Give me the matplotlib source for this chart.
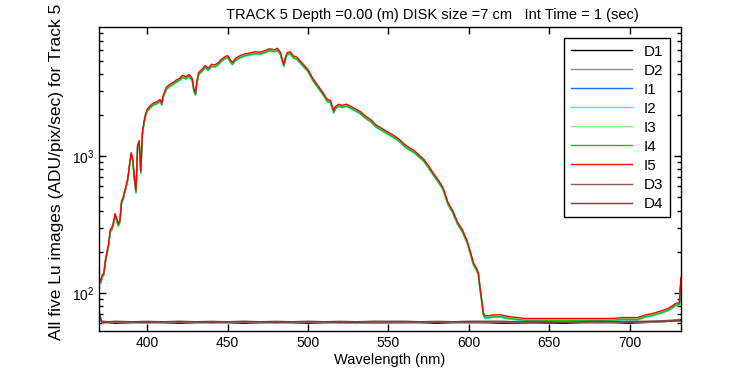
import matplotlib
matplotlib.use("Agg")
import matplotlib.pyplot as plt
from matplotlib.ticker import NullFormatter, LogLocator

plt.rcParams['font.family'] = ['Liberation Sans', 'DejaVu Sans']
plt.rcParams['mathtext.fontset'] = 'custom'
plt.rcParams['mathtext.rm'] = 'Liberation Sans'
plt.rcParams['mathtext.it'] = 'Liberation Sans'

# Lu spectrum for I5 (wavelength nm, ADU/pix/sec)
wl = [370, 371, 372, 373, 374, 375, 376, 377, 378, 379, 380, 381, 382, 383, 384,
      385, 386, 387, 388, 389, 390, 391, 392, 393, 394, 395, 396, 397, 398, 399,
      400, 402, 404, 406, 408, 409, 410, 412, 414, 416, 418, 420, 422, 424, 426,
      428, 429, 430, 431, 432, 434, 436, 438, 440, 442, 444, 446, 448, 450, 452,
      453, 455, 458, 461, 464, 467, 470, 473, 476, 479, 481, 483, 484, 485, 486,
      487, 489, 491, 493, 495, 497, 500, 503, 506, 509, 512, 514, 516, 517, 519,
      521, 524, 527, 530, 533, 536, 539, 542, 545, 548, 551, 554, 557, 560, 563,
      566, 569, 572, 575, 578, 581, 584, 587, 590, 593, 596, 599, 601, 603, 605,
      606, 607, 608, 609, 610, 612, 615, 620, 625, 630, 635, 640, 645, 650, 655,
      660, 665, 670, 675, 680, 685, 690, 695, 700, 705, 710, 715, 720, 724, 727,
      729, 730, 731, 732]
i5 = [128, 122, 135, 140, 175, 200, 230, 290, 300, 330, 380, 350, 320, 340, 470,
      500, 560, 620, 700, 880, 1060, 960, 700, 560, 1200, 1300, 780, 1500, 1800, 2050,
      2200, 2350, 2450, 2500, 2600, 2450, 2800, 3200, 3350, 3450, 3600, 3700, 3900, 3800, 3950,
      3700, 3100, 2900, 3600, 4100, 4300, 4600, 4400, 4700, 4650, 4800, 5100, 5300, 5450, 5000,
      4850, 5200, 5450, 5600, 5700, 5800, 5750, 5900, 6100, 6000, 6150, 5700, 5100, 4700, 5300,
      5700, 5800, 5400, 5300, 5000, 4700, 4300, 3700, 3300, 2950, 2600, 2550, 2150, 2300, 2400,
      2350, 2400, 2300, 2200, 2100, 1950, 1850, 1700, 1620, 1540, 1470, 1400, 1320, 1220, 1150,
      1100, 1020, 950, 850, 750, 670, 590, 460, 400, 330, 290, 240, 200, 165, 150,
      140, 110, 90, 72, 68, 68, 69, 69, 67, 66, 65, 65, 65, 65, 65,
      65, 65, 65, 65, 65, 65, 65, 66, 66, 66, 69, 71, 74, 77, 81,
      84, 84, 85, 130]

# relative level of the other Lu images against I5
gain = {"I1": 0.965, "I2": 0.96, "I3": 0.975, "I4": 0.97}

# dark images
wl_dark = [370, 371, 372, 380, 400, 420, 440, 460, 480, 500, 520, 540, 560,
           580, 600, 620, 640, 660, 680, 700, 715, 725, 732]
d1 = [72, 64, 61, 60, 61, 60, 61, 60, 61, 60, 61, 60, 61,
      60, 61, 60, 60, 60, 61, 60, 61, 62, 63]
d2 = [70, 63, 60, 61, 60, 61, 60, 61, 60, 61, 60, 60, 60,
      61, 60, 61, 60, 61, 60, 61, 61, 62, 62]
d3 = [75, 65, 62, 61, 62, 61, 62, 61, 62, 61, 62, 61, 61,
      62, 61, 61, 62, 61, 61, 62, 62, 63, 64]
d4 = [74, 64, 61, 62, 61, 62, 61, 62, 61, 62, 61, 62, 62,
      61, 62, 62, 61, 61, 62, 61, 62, 62, 63]

colors = {"D1": "black", "D2": "#8c8c8c", "I1": "#1a6fe0", "I2": "#33f0f0",
          "I3": "#88f088", "I4": "#10c010", "I5": "#ff0000",
          "D3": "#8e5a5a", "D4": "#7a3a3a"}

fig = plt.figure(figsize=(7.5, 3.75), dpi=100)
ax = fig.add_axes([0.132, 0.117, 0.776, 0.811])

for name in ["D1", "D2", "I1", "I2", "I3", "I4", "I5", "D3", "D4"]:
    if name.startswith("D"):
        x, y = wl_dark, {"D1": d1, "D2": d2, "D3": d3, "D4": d4}[name]
    elif name == "I5":
        x, y = wl, i5
    else:
        x, y = wl, [v * gain[name] for v in i5]
    ax.plot(x, y, color=colors[name], lw=1.0, label=name)

ax.set_yscale("log")
ax.set_xlim(370, 732)
ax.set_ylim(52.5, 8800)
ax.set_xticks([400, 450, 500, 550, 600, 650, 700])
ax.yaxis.set_minor_locator(LogLocator(base=10, subs=range(2, 10)))
ax.yaxis.set_minor_formatter(NullFormatter())
ax.tick_params(which="both", direction="in", top=True, right=True, labelsize=10)
ax.tick_params(which="major", length=5, width=1)
ax.tick_params(which="minor", length=3, width=1)
for s in ax.spines.values():
    s.set_linewidth(1.0)

ax.set_xlabel("Wavelength (nm)", fontsize=10.5, labelpad=2)
ax.set_ylabel("All five Lu images (ADU/pix/sec) for Track 5", fontsize=12.5)
# shift the label up a little, so it sits as in the picture
ax.yaxis.set_label_coords(-0.06, 0.525)
ax.set_title("TRACK 5 Depth =0.00 (m) DISK size =7 cm   Int Time = 1 (sec)",
             fontsize=10.5, x=0.572, pad=6)

leg = ax.legend(loc="upper right", fontsize=11, handlelength=4.0, labelspacing=0.33,
                borderaxespad=0.75, fancybox=False, framealpha=1, edgecolor="black",
                handletextpad=0.8, borderpad=0.4)
leg.get_frame().set_linewidth(1.0)

fig.savefig("out.png", dpi=100)
